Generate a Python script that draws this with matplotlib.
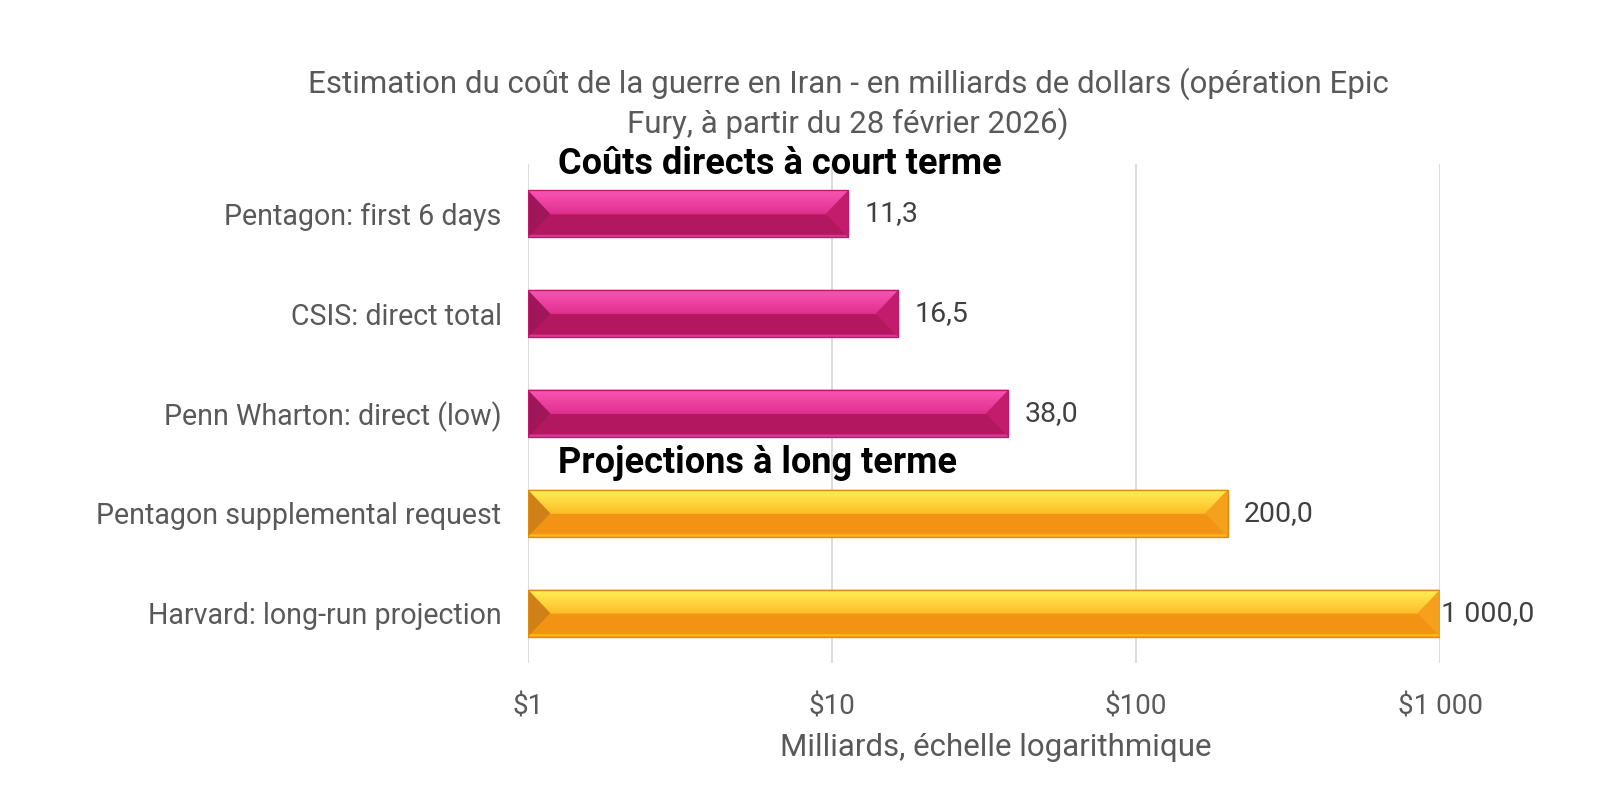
import numpy as np
import matplotlib
matplotlib.use('Agg')
import matplotlib.pyplot as plt
from matplotlib.patches import Polygon
from matplotlib.colors import to_rgb

plt.rcParams['font.family'] = ['Roboto', 'DejaVu Sans']

categories = ['Pentagon: first 6 days', 'CSIS: direct total', 'Penn Wharton: direct (low)',
              'Pentagon supplemental request', 'Harvard: long-run projection']
values = [11.3, 16.5, 38.0, 200.0, 1000.0]
groups = ['short', 'short', 'short', 'long', 'long']
xticks = [1, 10, 100, 1000]
xtick_labels = ['$1', '$10', '$100', '$1 000']
title = ('Estimation du coût de la guerre en Iran - en milliards de dollars (opération Epic\n'
         'Fury, à partir du 28 février 2026)')
section_titles = ['Coûts directs à court terme', 'Projections à long terme']
section_pos = [-0.5, 2.5]

# bevel palette: top band (top, mid), bottom, left tri, right tri, bottom edge, outline
palette = {
    'short': dict(top='#F955B4', mid='#E02F8E', low='#B3175F', left='#A0165A',
                  right='#C41C6C', edge='#DD3895', line='#C0186C'),
    'long': dict(top='#FFEF55', mid='#FDBE28', low='#F39313', left='#CF8016',
                 right='#F5A11E', edge='#FBB51E', line='#E08A10'),
}


def mix(c1, c2, t):
    a, b = np.array(to_rgb(c1)), np.array(to_rgb(c2))
    return tuple(a + (b - a) * t)


fig = plt.figure(figsize=(16.18, 7.92), dpi=100)
ax = fig.add_axes([528 / 1618, 1 - 663 / 792, 912 / 1618, 499 / 792])

y = np.arange(len(categories))
bars = ax.barh(y, values, height=0.47, color=[palette[g]['low'] for g in groups], zorder=2)

ax.set_xscale('log')
ax.set_xlim(1, 1000)
ax.set_ylim(len(categories) - 0.5, -0.5)
ax.set_xticks(xticks)
ax.set_xticklabels(xtick_labels)
ax.minorticks_off()
ax.set_yticks(y)
ax.set_yticklabels(categories)
ax.tick_params(axis='both', length=0, colors='#595959', labelsize=20)
ax.tick_params(axis='y', pad=19, labelsize=20.6)
ax.tick_params(axis='x', pad=22)
ax.grid(axis='x', color='#D9D9D9', linewidth=1.3, zorder=0)
ax.set_axisbelow(True)
for s in ax.spines.values():
    s.set_visible(False)

# bevelled bars drawn from the bar geometry
fig.canvas.draw()
inv = ax.transData.inverted()


def add_poly(pts, color, z=3, lw=0):
    p = Polygon(inv.transform(np.array(pts)), closed=True, facecolor=color,
                edgecolor=color, linewidth=lw, zorder=z)
    ax.add_patch(p)


for bar, g in zip(bars, groups):
    c = palette[g]
    bb = bar.get_window_extent()
    x0, x1, y0, y1 = max(bb.x0, ax.bbox.x0), bb.x1, bb.y0, bb.y1
    h = y1 - y0
    mid = (y0 + y1) / 2
    d = h / 2 * 0.95
    add_poly([(x0, y0), (x1, y0), (x1 - d, mid), (x0 + d, mid)], c['low'])
    n = 14
    for k in range(n):
        ya = mid + (y1 - mid) * k / n
        yb = mid + (y1 - mid) * (k + 1) / n
        da = d * (1 - k / n)
        db = d * (1 - (k + 1) / n)
        add_poly([(x0 + da, ya), (x1 - da, ya), (x1 - db, yb), (x0 + db, yb)],
                 mix(c['mid'], c['top'], (k + 0.5) / n), lw=0.6)
    add_poly([(x0, y0), (x0, y1), (x0 + d, mid)], c['left'], z=4)
    add_poly([(x1, y0), (x1, y1), (x1 - d, mid)], c['right'], z=4)
    add_poly([(x0, y0), (x1, y0), (x1 - 2, y0 + 2.5), (x0 + 2, y0 + 2.5)], c['edge'], z=5)
    ax.add_patch(Polygon(inv.transform(np.array([(x0, y0), (x1, y0), (x1, y1), (x0, y1)])),
                         closed=True, fill=False, edgecolor=c['line'], linewidth=1, zorder=6))

for i, v in enumerate(values):
    txt = f'{v:,.1f}'.replace(',', ' ').replace('.', ',')
    off = 12 if v < ax.get_xlim()[1] else 1
    ax.annotate(txt, xy=(v, i), xytext=(off, 0), textcoords='offset points',
                va='center', ha='left', fontsize=20.5, color='#404040', annotation_clip=False)

for s, pos in zip(section_titles, section_pos):
    ax.text(0.033, pos, s, transform=ax.get_yaxis_transform(), fontsize=26,
            fontweight='bold', color='black', va='center', ha='left', zorder=7)

fig.text(848 / 1618, 1 - 104 / 792, title, ha='center', va='center', fontsize=22.5,
         color='#595959', linespacing=1.28)
fig.text(996 / 1618, 1 - 747 / 792, 'Milliards, échelle logarithmique', ha='center',
         va='center', fontsize=22.5, color='#595959')

fig.savefig('out.png', dpi=100)
